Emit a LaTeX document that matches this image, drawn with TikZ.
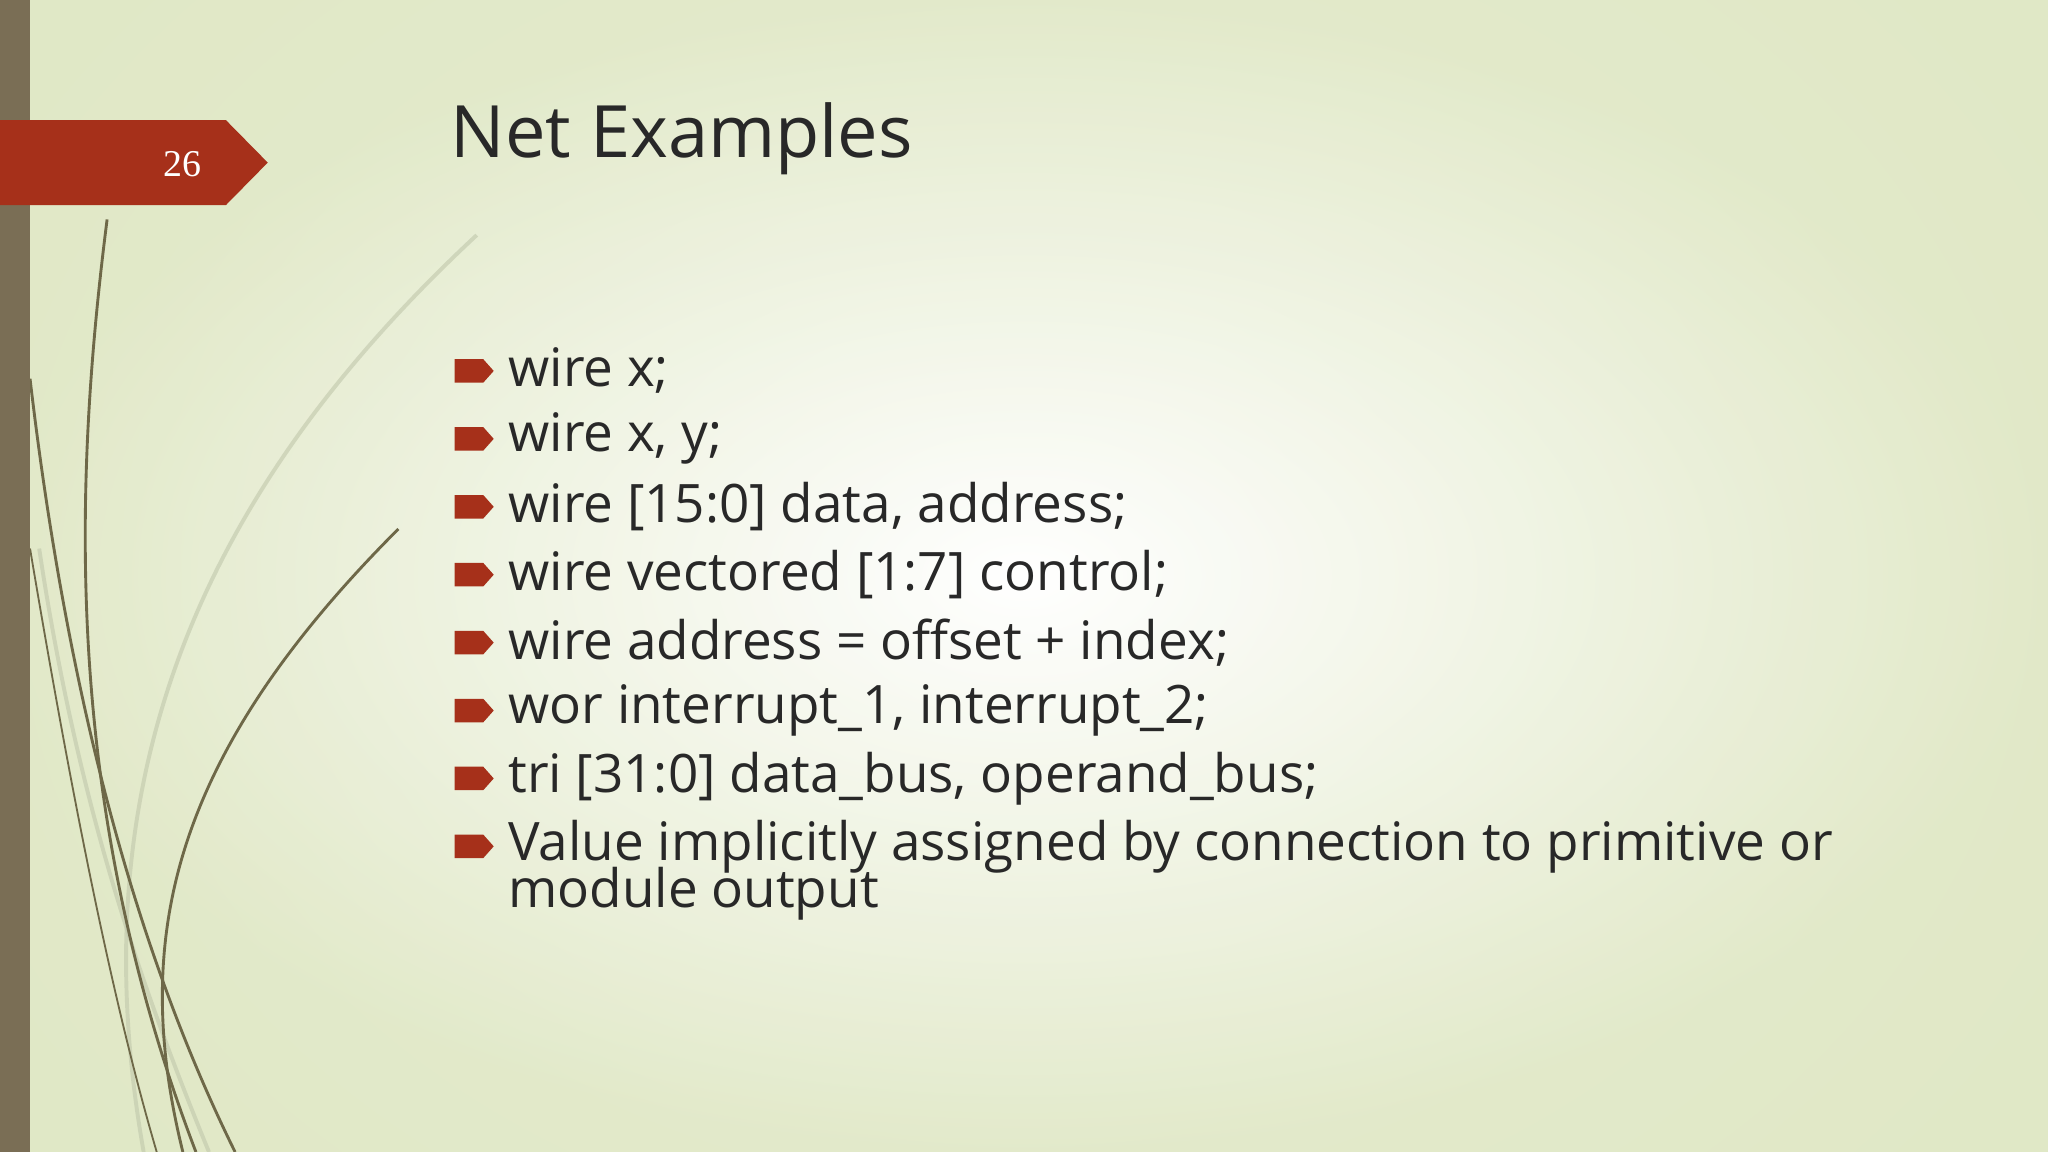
\documentclass[tikz,border=0pt]{standalone}
\usepackage{fontspec}
\setmainfont{Open Sans}
\usetikzlibrary{shapes,positioning}
\definecolor{bgGreen}{RGB}{220,229,190}
\definecolor{barBrown}{RGB}{122,110,85}
\definecolor{tagRed}{RGB}{166,48,26}
\definecolor{stemOlive}{RGB}{110,104,72}
\definecolor{textDark}{RGB}{40,40,40}
\tikzset{
  item/.style={anchor=west,inner sep=0pt,text=textDark,font=\fontsize{40.6}{40.6}\selectfont},
  bulletmark/.style={fill=tagRed,draw=none},
  stem/.style={draw=stemOlive,line width=2.2pt},
  faint/.style={draw=bgGreen!70!gray,line width=3pt,opacity=0.6}
}
\begin{document}
\begin{tikzpicture}[x=1pt,y=-1pt]
\useasboundingbox (0,0) rectangle (1568,882);

% background
\shade[inner color=white,outer color=bgGreen] (-300,-400) rectangle (1868,1282);
\fill[white,opacity=0.35] (0,0) rectangle (1568,882);
\shade[inner color=white,outer color=bgGreen,opacity=0.7] (0,0) rectangle (1568,882);

% stems
\draw[faint] (365,180) .. controls (150,380) and (60,600) .. (110,882);
\draw[faint] (30,420) .. controls (60,620) and (110,760) .. (160,882);
\draw[stem] (82,168) .. controls (55,380) and (50,620) .. (150,882);
\draw[stem] (23,290) .. controls (50,520) and (100,720) .. (180,882);
\draw[stem] (305,405) .. controls (130,580) and (100,720) .. (140,882);
\draw[stem,line width=1.4pt] (23,420) .. controls (60,640) and (90,780) .. (120,882);

% left bar and tag
\fill[barBrown] (0,0) rectangle (23,882);
\fill[tagRed] (0,92) -- (173,92) -- (205,124.5) -- (173,157) -- (0,157) -- cycle;
\node[text=white,font=\fontspec{Liberation Serif}\fontsize{29}{29}\selectfont] (num) at (140,126) {26};

% title
\node[anchor=west,inner sep=0pt,text=textDark,font=\fontsize{55.3}{55.3}\selectfont] (title) at (345,106) {Net Examples};

% bullets
\foreach \y/\txt [count=\i] in {
  284/{wire x;},
  336/{wire x, y;},
  388/{wire [15:0] data, address;},
  440/{wire vectored [1:7] control;},
  492/{wire address = offset + index;},
  544/{wor interrupt\_1, interrupt\_2;},
  596/{tri [31:0] data\_bus, operand\_bus;},
  648/{Value implicitly assigned by connection to primitive or}} {
  \fill[bulletmark] (348,\y-9) -- (370,\y-9) -- (378,\y) -- (370,\y+9) -- (348,\y+9) -- cycle;
  \node[item] (line\i) at (389,\y) {\txt};
}
\node[item] (line9) at (389,684) {module output};
\end{tikzpicture}
\end{document}
